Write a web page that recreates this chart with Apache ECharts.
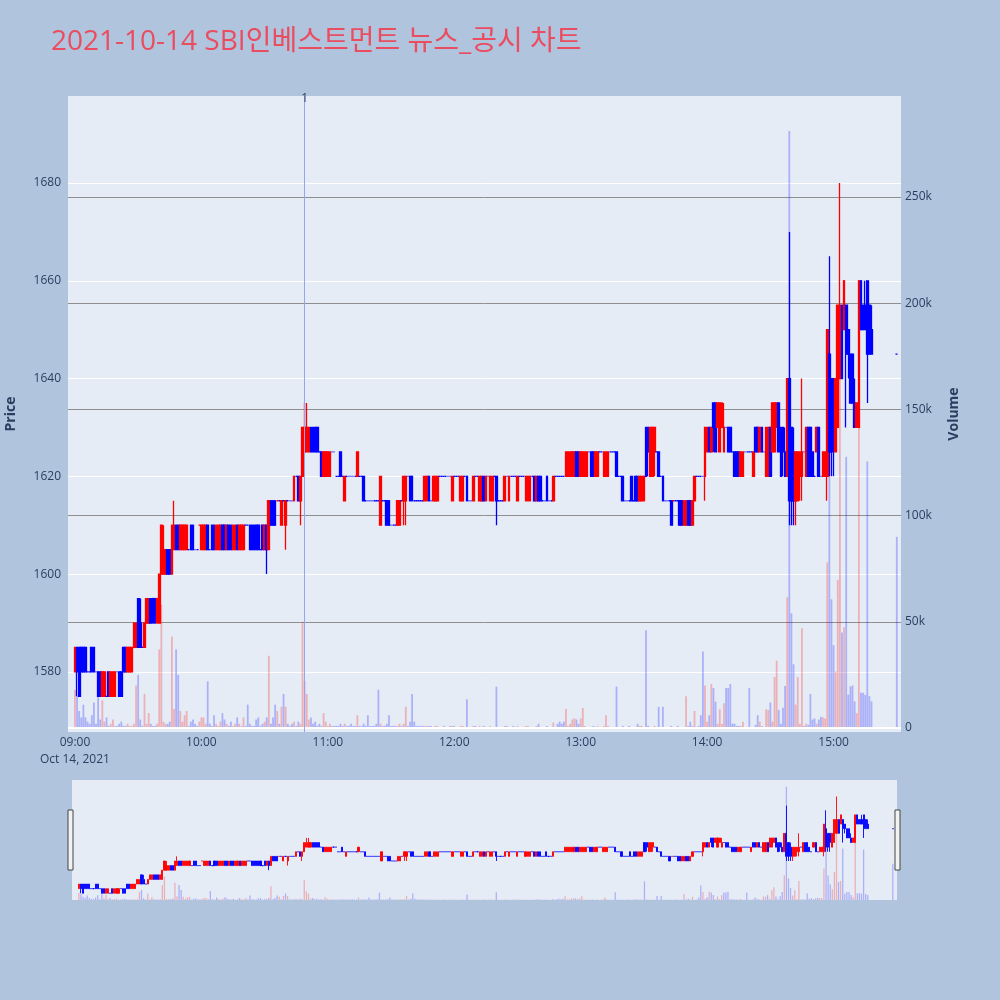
<!DOCTYPE html>
<html lang="ko">
<head>
<meta charset="UTF-8">
<title>SBI인베스트먼트 뉴스_공시 차트</title>
<script src="https://cdn.jsdelivr.net/npm/echarts@6/dist/echarts.min.js"></script>
<style>
  html, body { margin: 0; padding: 0; background: #b0c4de; }
  #main { width: 1000px; height: 1000px; }
</style>
</head>
<body>
<div id="main"></div>
<script>
// 분봉 데이터: [분(09:00 기준), 시가, 종가, 저가, 고가]
var rows = [
  // 09:00
  [0,1580,1585,1580,1585],[1,1585,1580,1575,1585],[2,1585,1575,1575,1585],[3,1585,1580,1580,1585],[4,1585,1580,1580,1585],
  [5,1585,1580,1580,1585],[6,1580,1580,1580,1580],[7,1580,1580,1580,1580],[8,1585,1580,1580,1585],[9,1585,1580,1580,1585],
  [10,1580,1580,1580,1580],[11,1580,1575,1575,1580],[12,1580,1575,1575,1580],[13,1575,1580,1575,1580],[14,1575,1580,1575,1580],
  [15,1575,1575,1575,1575],[16,1580,1575,1575,1580],[17,1575,1580,1575,1580],[18,1575,1580,1575,1580],[19,1575,1580,1575,1580],
  [20,1580,1580,1580,1580],[21,1580,1575,1575,1580],[22,1580,1575,1575,1580],[23,1585,1580,1580,1585],[24,1585,1580,1580,1585],
  [25,1580,1585,1580,1585],[26,1580,1585,1580,1585],[27,1580,1585,1580,1585],[28,1585,1590,1585,1590],[29,1585,1590,1585,1590],
  [30,1595,1585,1585,1595],[31,1590,1585,1585,1595],[32,1585,1585,1585,1585],[33,1585,1590,1585,1590],[34,1590,1595,1590,1595],
  [35,1590,1595,1590,1595],[36,1595,1590,1590,1595],[37,1595,1590,1590,1595],[38,1595,1590,1590,1595],[39,1590,1595,1590,1595],
  [40,1590,1600,1590,1600],[41,1600,1610,1600,1610],[42,1600,1605,1600,1610],[43,1600,1605,1600,1605],[44,1605,1600,1600,1605],
  [45,1605,1600,1600,1605],[46,1600,1610,1600,1610],[47,1605,1610,1605,1615],[48,1610,1605,1605,1610],[49,1610,1605,1605,1610],
  [50,1605,1610,1605,1610],[51,1605,1610,1605,1610],[52,1605,1610,1605,1610],[53,1605,1610,1605,1610],[54,1605,1605,1605,1605],
  [55,1610,1605,1605,1610],[56,1610,1605,1605,1610],[57,1605,1605,1605,1605],[58,1605,1605,1605,1605],[59,1610,1610,1610,1610],
  // 10:00
  [60,1605,1610,1605,1610],[61,1605,1610,1605,1610],[62,1605,1610,1605,1610],[63,1610,1605,1605,1610],[64,1605,1605,1605,1605],
  [65,1610,1605,1605,1610],[66,1610,1605,1605,1610],[67,1605,1610,1605,1610],[68,1605,1610,1605,1610],[69,1605,1610,1605,1610],
  [70,1610,1605,1605,1610],[71,1610,1605,1605,1610],[72,1605,1610,1605,1610],[73,1610,1605,1605,1610],[74,1610,1605,1605,1610],
  [75,1605,1610,1605,1610],[76,1605,1610,1605,1610],[77,1610,1605,1605,1610],[78,1605,1610,1605,1610],[79,1605,1610,1605,1610],
  [80,1605,1610,1605,1610],[81,1610,1610,1610,1610],[82,1610,1610,1610,1610],[83,1610,1605,1605,1610],[84,1610,1605,1605,1610],
  [85,1610,1605,1605,1610],[86,1610,1605,1605,1610],[87,1610,1605,1605,1610],[88,1605,1605,1605,1605],[89,1610,1605,1605,1610],
  [90,1605,1610,1605,1610],[91,1610,1605,1600,1610],[92,1605,1615,1605,1615],[93,1615,1610,1610,1615],[94,1615,1610,1610,1615],
  [95,1615,1610,1610,1615],[96,1615,1615,1615,1615],[97,1615,1615,1615,1615],[98,1610,1615,1610,1615],[99,1615,1615,1615,1615],
  [100,1610,1615,1605,1615],[101,1615,1615,1615,1615],[102,1615,1615,1615,1615],[103,1615,1615,1615,1615],[104,1615,1620,1615,1620],
  [105,1620,1620,1620,1620],[106,1620,1615,1615,1620],[107,1615,1620,1610,1620],[108,1620,1630,1620,1630],[109,1625,1630,1625,1635],
  [110,1625,1630,1625,1635],[111,1625,1630,1625,1630],[112,1630,1625,1625,1630],[113,1630,1625,1625,1630],[114,1630,1625,1625,1630],
  [115,1630,1625,1625,1630],[116,1625,1625,1625,1625],[117,1625,1620,1620,1625],[118,1620,1625,1620,1625],[119,1620,1625,1620,1625],
  // 11:00
  [120,1620,1625,1620,1625],[121,1620,1625,1620,1625],[122,1625,1625,1625,1625],[123,1625,1625,1625,1625],[124,1620,1620,1620,1620],
  [125,1620,1620,1620,1620],[126,1625,1620,1620,1625],[127,1620,1620,1620,1620],[128,1615,1620,1615,1620],[129,1620,1620,1620,1620],
  [130,1620,1620,1620,1620],[131,1620,1620,1620,1620],[132,1620,1620,1620,1620],[133,1620,1620,1620,1620],[134,1620,1625,1620,1625],
  [135,1620,1620,1620,1620],[136,1620,1620,1620,1620],[137,1620,1615,1615,1620],[138,1615,1615,1615,1615],[139,1615,1615,1615,1615],
  [140,1615,1615,1615,1615],[141,1615,1615,1615,1615],[142,1615,1615,1615,1615],[143,1615,1615,1615,1615],[144,1615,1615,1615,1615],
  [145,1610,1620,1610,1620],[146,1615,1615,1615,1615],[147,1615,1615,1615,1615],[148,1615,1610,1610,1615],[149,1615,1610,1610,1615],
  [150,1610,1610,1610,1610],[151,1610,1610,1610,1610],[152,1610,1610,1610,1610],[153,1610,1615,1610,1615],[154,1610,1615,1610,1615],
  [155,1615,1615,1615,1615],[156,1615,1620,1610,1620],[157,1615,1620,1610,1620],[158,1620,1620,1620,1620],[159,1620,1615,1615,1620],
  [160,1620,1615,1615,1620],[161,1615,1615,1615,1615],[162,1615,1615,1615,1615],[163,1615,1615,1615,1615],[164,1615,1615,1615,1615],
  [165,1615,1615,1615,1615],[166,1615,1620,1615,1620],[167,1615,1620,1615,1620],[168,1620,1615,1615,1620],[169,1615,1615,1615,1615],
  [170,1615,1620,1615,1620],[171,1615,1620,1615,1620],[172,1615,1620,1615,1620],[173,1620,1620,1620,1620],[174,1620,1620,1620,1620],
  [175,1620,1620,1620,1620],[176,1620,1620,1620,1620],[177,1620,1620,1620,1620],[178,1620,1620,1620,1620],[179,1615,1620,1615,1620],
  // 12:00
  [180,1620,1620,1620,1620],[181,1620,1620,1620,1620],[182,1620,1620,1620,1620],[183,1615,1620,1615,1620],[184,1615,1620,1615,1620],
  [185,1620,1620,1620,1620],[186,1620,1615,1615,1620],[187,1615,1615,1615,1615],[188,1615,1615,1615,1615],[189,1615,1620,1615,1620],
  [190,1620,1620,1620,1620],[191,1620,1620,1620,1620],[192,1615,1620,1615,1620],[193,1615,1620,1615,1620],[194,1620,1615,1615,1620],
  [195,1615,1620,1615,1620],[196,1620,1620,1620,1620],[197,1615,1620,1615,1620],[198,1615,1620,1615,1620],[199,1620,1620,1620,1620],
  [200,1620,1615,1610,1620],[201,1615,1615,1615,1615],[202,1615,1615,1615,1615],[203,1615,1615,1615,1615],[204,1615,1620,1615,1620],
  [205,1620,1620,1620,1620],[206,1615,1620,1615,1620],[207,1620,1620,1620,1620],[208,1620,1620,1620,1620],[209,1620,1620,1620,1620],
  [210,1615,1620,1615,1620],[211,1620,1620,1620,1620],[212,1620,1620,1620,1620],[213,1620,1620,1620,1620],[214,1615,1620,1615,1620],
  [215,1615,1620,1615,1620],[216,1615,1620,1615,1620],[217,1620,1620,1620,1620],[218,1620,1615,1615,1620],[219,1615,1620,1615,1620],
  [220,1620,1615,1615,1620],[221,1620,1615,1615,1620],[222,1615,1615,1615,1615],[223,1615,1615,1615,1615],[224,1620,1615,1615,1620],
  [225,1615,1615,1615,1615],[226,1615,1615,1615,1615],[227,1615,1620,1615,1620],[228,1620,1620,1620,1620],[229,1620,1620,1620,1620],
  [230,1620,1620,1620,1620],[231,1620,1620,1620,1620],[232,1620,1620,1620,1620],[233,1620,1625,1620,1625],[234,1620,1625,1620,1625],
  [235,1620,1625,1620,1625],[236,1620,1625,1620,1625],[237,1620,1625,1620,1625],[238,1625,1620,1620,1625],[239,1625,1620,1620,1625],
  // 13:00
  [240,1620,1625,1620,1625],[241,1620,1625,1620,1625],[242,1620,1625,1620,1625],[243,1620,1625,1620,1625],[244,1625,1625,1625,1625],
  [245,1625,1620,1620,1625],[246,1625,1620,1620,1625],[247,1620,1625,1620,1625],[248,1620,1625,1620,1625],[249,1625,1625,1625,1625],
  [250,1625,1625,1625,1625],[251,1620,1625,1620,1625],[252,1620,1625,1620,1625],[253,1620,1625,1620,1625],[254,1625,1625,1625,1625],
  [255,1625,1625,1625,1625],[256,1625,1625,1625,1625],[257,1625,1620,1620,1625],[258,1620,1620,1620,1620],[259,1620,1620,1620,1620],
  [260,1620,1615,1615,1620],[261,1615,1615,1615,1615],[262,1615,1615,1615,1615],[263,1615,1615,1615,1615],[264,1620,1615,1615,1620],
  [265,1615,1615,1615,1615],[266,1620,1615,1615,1620],[267,1620,1615,1615,1620],[268,1615,1620,1615,1620],[269,1615,1620,1615,1620],
  [270,1615,1620,1615,1620],[271,1630,1620,1620,1630],[272,1630,1625,1620,1630],[273,1620,1630,1620,1630],[274,1620,1630,1620,1630],
  [275,1625,1630,1620,1630],[276,1625,1625,1625,1625],[277,1625,1620,1620,1625],[278,1620,1620,1620,1620],[279,1620,1615,1615,1620],
  [280,1615,1615,1615,1615],[281,1615,1615,1615,1615],[282,1615,1615,1615,1615],[283,1615,1610,1610,1615],[284,1615,1615,1615,1615],
  [285,1615,1615,1615,1615],[286,1615,1615,1615,1615],[287,1615,1610,1610,1615],[288,1615,1610,1610,1615],[289,1610,1615,1610,1615],
  [290,1610,1615,1610,1615],[291,1615,1610,1610,1615],[292,1615,1610,1610,1615],[293,1610,1615,1610,1615],[294,1615,1620,1615,1620],
  [295,1620,1620,1620,1620],[296,1620,1620,1620,1620],[297,1620,1620,1620,1620],[298,1620,1620,1620,1620],[299,1620,1630,1615,1630],
  // 14:00
  [300,1625,1630,1625,1630],[301,1630,1625,1625,1630],[302,1625,1630,1625,1630],[303,1635,1630,1625,1635],[304,1635,1625,1625,1635],
  [305,1630,1635,1630,1635],[306,1625,1635,1625,1635],[307,1630,1635,1630,1635],[308,1625,1630,1625,1635],[309,1630,1630,1630,1630],
  [310,1630,1625,1625,1630],[311,1630,1625,1625,1630],[312,1625,1625,1625,1625],[313,1625,1620,1620,1625],[314,1625,1620,1620,1625],
  [315,1625,1620,1620,1625],[316,1620,1625,1620,1625],[317,1620,1625,1620,1625],[318,1625,1625,1625,1625],[319,1625,1625,1625,1625],
  [320,1625,1625,1625,1625],[321,1625,1625,1625,1625],[322,1620,1625,1620,1625],[323,1630,1625,1625,1630],[324,1630,1625,1625,1630],
  [325,1625,1630,1625,1630],[326,1630,1625,1625,1630],[327,1625,1625,1625,1625],[328,1620,1630,1620,1630],[329,1620,1630,1620,1630],
  [330,1630,1620,1620,1630],[331,1625,1635,1625,1635],[332,1625,1635,1625,1635],[333,1630,1635,1630,1635],[334,1635,1625,1625,1635],
  [335,1630,1620,1620,1630],[336,1630,1625,1620,1630],[337,1625,1620,1620,1630],[338,1620,1640,1620,1640],[339,1640,1615,1610,1670],
  [340,1630,1615,1610,1630],[341,1625,1615,1610,1630],[342,1615,1625,1610,1625],[343,1615,1625,1615,1625],[344,1620,1625,1615,1625],
  [345,1620,1625,1615,1640],[346,1625,1625,1625,1625],[347,1620,1630,1620,1630],[348,1630,1620,1620,1630],[349,1630,1620,1620,1630],
  [350,1625,1620,1620,1625],[351,1620,1620,1620,1620],[352,1625,1630,1625,1630],[353,1630,1620,1620,1630],[354,1620,1620,1620,1620],
  [355,1620,1625,1620,1625],[356,1620,1625,1620,1625],[357,1620,1650,1615,1650],[358,1645,1625,1620,1665],[359,1640,1625,1620,1640],
  // 15:00
  [360,1640,1630,1620,1640],[361,1625,1640,1625,1640],[362,1630,1655,1630,1655],[363,1640,1655,1640,1680],[364,1655,1640,1640,1655],
  [365,1650,1660,1650,1660],[366,1655,1645,1630,1655],[367,1650,1645,1640,1650],[368,1645,1635,1635,1645],[369,1645,1635,1635,1645],
  [370,1635,1630,1630,1640],[371,1630,1635,1630,1635],[372,1630,1660,1630,1660],[373,1660,1650,1650,1660],[374,1655,1650,1650,1655],
  [375,1655,1650,1650,1660],[376,1660,1645,1635,1660],[377,1655,1645,1645,1655],[378,1650,1645,1645,1655],
  // 15:30 동시호가
  [390,1645,1645,1645,1645]
];

// 분별 거래량 (천 주), rows와 같은 순서
var volumeK = [
  18,15,8,5,11,5,3,2,6,12,
  2,15,4,13,3,5,1,2,4,1,
  1,2,3,1,1,2,1,1,2,20,
  25,4,1,16,2,7,2,1,1,2,
  37,58,3,2,2,3,43,9,37,25,
  8,3,6,8,1,3,4,2,1,3,
  5,5,2,22,2,1,6,2,1,3,
  7,4,2,1,3,1,2,5,2,1,
  5,1,11,2,1,1,4,5,1,2,
  3,5,34,2,5,11,8,2,10,16,
  10,2,1,2,3,1,3,2,50,22,
  16,4,5,2,3,1,2,1,7,3,
  1,2,1,1,1,1,2,1,2,1,
  1,2,1,1,6,1,1,2,1,6,
  1,1,1,2,18,2,1,1,2,6,
  1,1,1,1,2,1,2,10,1,3,
  16,3,1,1,1,1,1,1,1,1,
  0.5,1,1,0.5,0.5,1,0.5,0.5,1,1,
  1,0.5,0.5,1,1,0.5,13.5,0.5,0.5,1,
  1,0.5,1,0.5,1,0.5,0.5,1,0.5,0.5,
  19.5,0.5,0.5,0.5,1,1,0.5,0.5,1,0.5,
  1,0.5,0.5,0.5,1,1,0.5,0.5,0.5,1,
  2,0.5,0.5,0.5,1,0.5,0.5,2.6,0.5,2,
  3,2,3,9,1,2,4,4.5,4,2,
  4.5,9.4,1,0.5,0.5,0.5,1,0.5,1,0.5,
  0.5,1,6,1,0.5,0.5,0.5,19.5,0.5,0.5,
  1,0.5,0.5,1,0.5,0.5,0.5,2,1,1,
  0.5,46,1,0.5,0.5,1,0.5,10,0.5,10,
  0.5,0.5,0.5,1,0.5,0.5,1,0.5,0.5,0.5,
  15,1,3,1,8,0.5,1,6,36,20,
  3,6,20.7,18.8,12.4,2,8.8,2,11.6,18.8,
  18.8,20.7,2,2,1,1,1,3,0.5,0.5,
  18.8,0.5,0.5,1.5,6,3,1,0.5,8.8,8.5,
  12,3,24,31.7,8.5,2,9.5,19.8,61.5,281,
  54,30,11,24,2,47,1,2,1.5,16,
  4,4.5,2,4,5.3,5,4.5,78,170,60.6,
  39,26.6,69.7,190,44.9,47.4,127.7,15.7,19.6,20,
  12.5,7,200,16.6,16.6,15.6,125.4,15,12.5,
  90
];

// 뉴스/공시 시점 (분)
var newsMinutes = [109];
var newsLabels = ['1'];

// 축 눈금
var hourTicks = [0, 60, 120, 180, 240, 300, 360];
var priceTicks = [1580, 1600, 1620, 1640, 1660, 1680];
var volumeTicks = [0, 50, 100, 150, 200, 250];
var volumeGrid = [50, 100, 150, 200, 250];

var upColor = '#ff0000';
var downColor = '#0000ff';
var volUp = 'rgba(255,0,0,0.25)';
var volDown = 'rgba(0,0,255,0.25)';
var font = "'Open Sans', 'Noto Sans CJK KR', sans-serif";

var candleData = [];
var volumeData = [];
rows.forEach(function (r, i) {
    var prevClose = i > 0 ? rows[i - 1][2] : r[1];
    var up = r[2] > r[1] || (r[2] === r[1] && r[2] > prevClose);
    var col = up ? upColor : downColor;
    candleData.push({
        value: r,
        itemStyle: { color: col, color0: col, borderColor: col, borderColor0: col }
    });
    volumeData.push({ value: [r[0], volumeK[i]], itemStyle: { color: up ? volUp : volDown } });
});

function hhmm(v) {
    var h = 9 + Math.floor(v / 60), m = v % 60;
    return (h < 10 ? '0' + h : '' + h) + ':' + (m < 10 ? '0' + m : '' + m);
}

var chart = echarts.init(document.getElementById('main'));
var option = {
    animation: false,
    backgroundColor: '#b0c4de',
    textStyle: { fontFamily: font },
    title: {
        text: '2021-10-14 SBI인베스트먼트 뉴스_공시 차트',
        left: 46,
        top: 23,
        textStyle: { color: '#ea4d60', fontSize: 28, fontWeight: 'normal', fontFamily: font }
    },
    grid: [
        { left: 68, top: 96, width: 833, height: 636, show: true, backgroundColor: '#e5ecf6', borderWidth: 0, outerBoundsMode: 'none' },
        { left: 72, top: 780, width: 825, height: 120, show: true, backgroundColor: '#e5ecf6', borderWidth: 0, outerBoundsMode: 'none' }
    ],
    xAxis: [
        {
            type: 'value', gridIndex: 0, min: -3.3, max: 392,
            axisLine: { show: false }, axisTick: { show: false }, splitLine: { show: false },
            axisLabel: {
                customValues: hourTicks, color: '#2a3f5f', fontSize: 12, margin: 2, lineHeight: 17,
                formatter: function (v) { return v === 0 ? '09:00\nOct 14, 2021' : hhmm(v); }
            }
        },
        {
            type: 'value', gridIndex: 1, min: -3.3, max: 392,
            axisLine: { show: false }, axisTick: { show: false }, splitLine: { show: false }, axisLabel: { show: false }
        }
    ],
    yAxis: [
        {
            type: 'value', gridIndex: 0, min: 1567.7, max: 1697.8, position: 'left',
            name: 'Price', nameLocation: 'middle', nameGap: 50, nameRotate: 90,
            nameTextStyle: { color: '#2a3f5f', fontSize: 14, fontWeight: 'bold' },
            axisLine: { show: false },
            axisTick: { show: false, customValues: priceTicks },
            axisLabel: {
                customValues: priceTicks, color: '#2a3f5f', fontSize: 12, margin: 7,
                formatter: function (v) { return String(v); }
            },
            splitLine: { show: true, lineStyle: { color: '#ffffff', width: 1 } }
        },
        {
            type: 'value', gridIndex: 0, min: -1.88, max: 297.5, position: 'right',
            name: 'Volume', nameLocation: 'middle', nameGap: 46, nameRotate: 90,
            nameTextStyle: { color: '#2a3f5f', fontSize: 14, fontWeight: 'bold' },
            axisLine: { show: false },
            axisTick: { show: false, customValues: volumeGrid },
            axisLabel: {
                customValues: volumeTicks, color: '#2a3f5f', fontSize: 12, margin: 4,
                formatter: function (v) { return v === 0 ? '0' : v + 'k'; }
            },
            splitLine: { show: true, lineStyle: { color: '#8f8f8f', width: 1 } }
        },
        {
            type: 'value', gridIndex: 1, min: 1567.7, max: 1697.8,
            axisLine: { show: false }, axisTick: { show: false }, axisLabel: { show: false }, splitLine: { show: false }
        },
        {
            type: 'value', gridIndex: 1, min: 0, max: 297.5,
            axisLine: { show: false }, axisTick: { show: false }, axisLabel: { show: false }, splitLine: { show: false }
        }
    ],
    series: [
        {
            name: 'Volume', type: 'bar', xAxisIndex: 0, yAxisIndex: 1, z: 1,
            barWidth: 1.8, data: volumeData,
            markLine: {
                silent: true, symbol: 'none', label: { show: false },
                lineStyle: { color: '#ffffff', width: 2, type: 'solid' },
                data: [{ yAxis: 0 }]
            }
        },
        {
            name: 'OHLC', type: 'candlestick', xAxisIndex: 0, yAxisIndex: 0, z: 3,
            encode: { x: 0, y: [1, 2, 3, 4] },
            barWidth: 2.2, itemStyle: { borderWidth: 1.3 },
            data: candleData,
            markLine: {
                silent: true, symbol: 'none',
                lineStyle: { color: '#9aa3f2', width: 1, type: 'solid', opacity: 1 },
                label: { show: true, position: 'end', distance: -9, color: '#2a3f5f', fontSize: 12 },
                data: newsMinutes.map(function (m, i) {
                    return { xAxis: m, label: { formatter: newsLabels[i] } };
                })
            }
        },
        {
            type: 'bar', xAxisIndex: 1, yAxisIndex: 3, z: 1,
            barWidth: 1.3, data: volumeData
        },
        {
            type: 'candlestick', xAxisIndex: 1, yAxisIndex: 2, z: 3,
            encode: { x: 0, y: [1, 2, 3, 4] },
            barWidth: 1.6, itemStyle: { borderWidth: 0.9 },
            data: candleData
        }
    ],
    graphic: [
        { type: 'rect', shape: { x: 68, y: 810, width: 5, height: 60 }, style: { fill: '#f2f2f2', stroke: '#444', lineWidth: 1 } },
        { type: 'rect', shape: { x: 895, y: 810, width: 5, height: 60 }, style: { fill: '#f2f2f2', stroke: '#444', lineWidth: 1 } }
    ]
};
chart.setOption(option);
</script>
</body>
</html>
